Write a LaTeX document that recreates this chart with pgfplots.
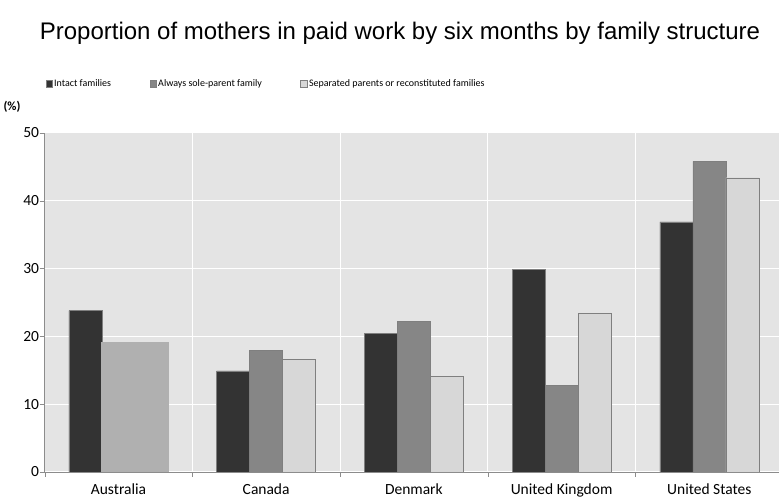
\documentclass[border=0pt]{standalone}
\usepackage{pgfplots}
\pgfplotsset{compat=1.18}
\usepackage{fontspec}
\setmainfont{Carlito}
\newfontfamily\arial{Liberation Sans}
\definecolor{bgc}{HTML}{E4E4E4}
\definecolor{intact}{HTML}{333333}
\definecolor{sole}{HTML}{868686}
\definecolor{sep}{HTML}{D7D7D7}
\definecolor{aus}{HTML}{B0B0B0}
\definecolor{edge}{HTML}{7F7F7F}
\definecolor{axc}{HTML}{8C8C8C}
\begin{document}
\begin{tikzpicture}[x=1pt,y=1pt]
\path[use as bounding box] (0,0) rectangle (779,500);
\node[font=\arial\fontsize{24}{28}\selectfont] at (400,467) {Proportion of mothers in paid work by six months by family structure};
\node[font=\bfseries\fontsize{12.5}{15}\selectfont] at (12,393) {(\%)};
\begin{axis}[
  at={(44.6pt,28pt)}, anchor=south west,
  scale only axis, width=734.4pt, height=339pt,
  xmin=-0.5, xmax=4.472, ymin=0, ymax=50,
  axis x line*=bottom, axis y line*=left,
  axis line style={axc,-}, 
  axis background/.style={fill=bgc},
  ytick={0,10,...,50},
  xtick={0,1,2,3,4},
  xticklabels={Australia,Canada,Denmark,United Kingdom,United States},
  minor xtick={-0.5,0.5,1.5,2.5,3.5},
  major x tick style={draw=none},
  minor tick length=5pt, major tick length=5pt,
  tick align=outside,
  tick style={axc},
  ymajorgrids, minor x grid style={white, line width=1pt},
  xminorgrids, major grid style={white, line width=1pt},
  y tick label style={/pgf/number format/assume math mode=true, font=\fontsize{15.5}{18}\selectfont, xshift=3pt},
  x tick label style={font=\fontsize{15.5}{18}\selectfont, yshift=-3pt},
  ybar, bar width=33pt,
  legend columns=3,
  legend style={at={(-0.003,1.145)}, anchor=west, draw=none, fill=none,
    font=\fontsize{10}{12}\selectfont, nodes={inner xsep=1.5pt},
    /tikz/every even column/.append style={column sep=37pt}},
  legend image code/.code={\draw[#1, line width=0.6pt] (0pt,-3.2pt) rectangle (6.5pt,3.2pt);},
]
\addplot[fill=intact, draw=edge, bar shift=-33pt] coordinates {(0,23.8) (1,14.9) (2,20.5) (3,29.9) (4,36.9)};
\addlegendentry{Intact families}
\addplot[fill=sole, draw=edge, bar shift=0pt] coordinates {(1,17.9) (2,22.2) (3,12.8) (4,45.8)};
\addlegendentry{Always sole-parent family}
\addplot[fill=sep, draw=edge, bar shift=33pt] coordinates {(1,16.6) (2,14.1) (3,23.4) (4,43.4)};
\addlegendentry{Separated parents or reconstituted families}
\addplot[fill=aus, draw=aus, bar width=67pt, bar shift=16.5pt, forget plot] coordinates {(0,19.2)};
\end{axis}
\end{tikzpicture}
\end{document}
